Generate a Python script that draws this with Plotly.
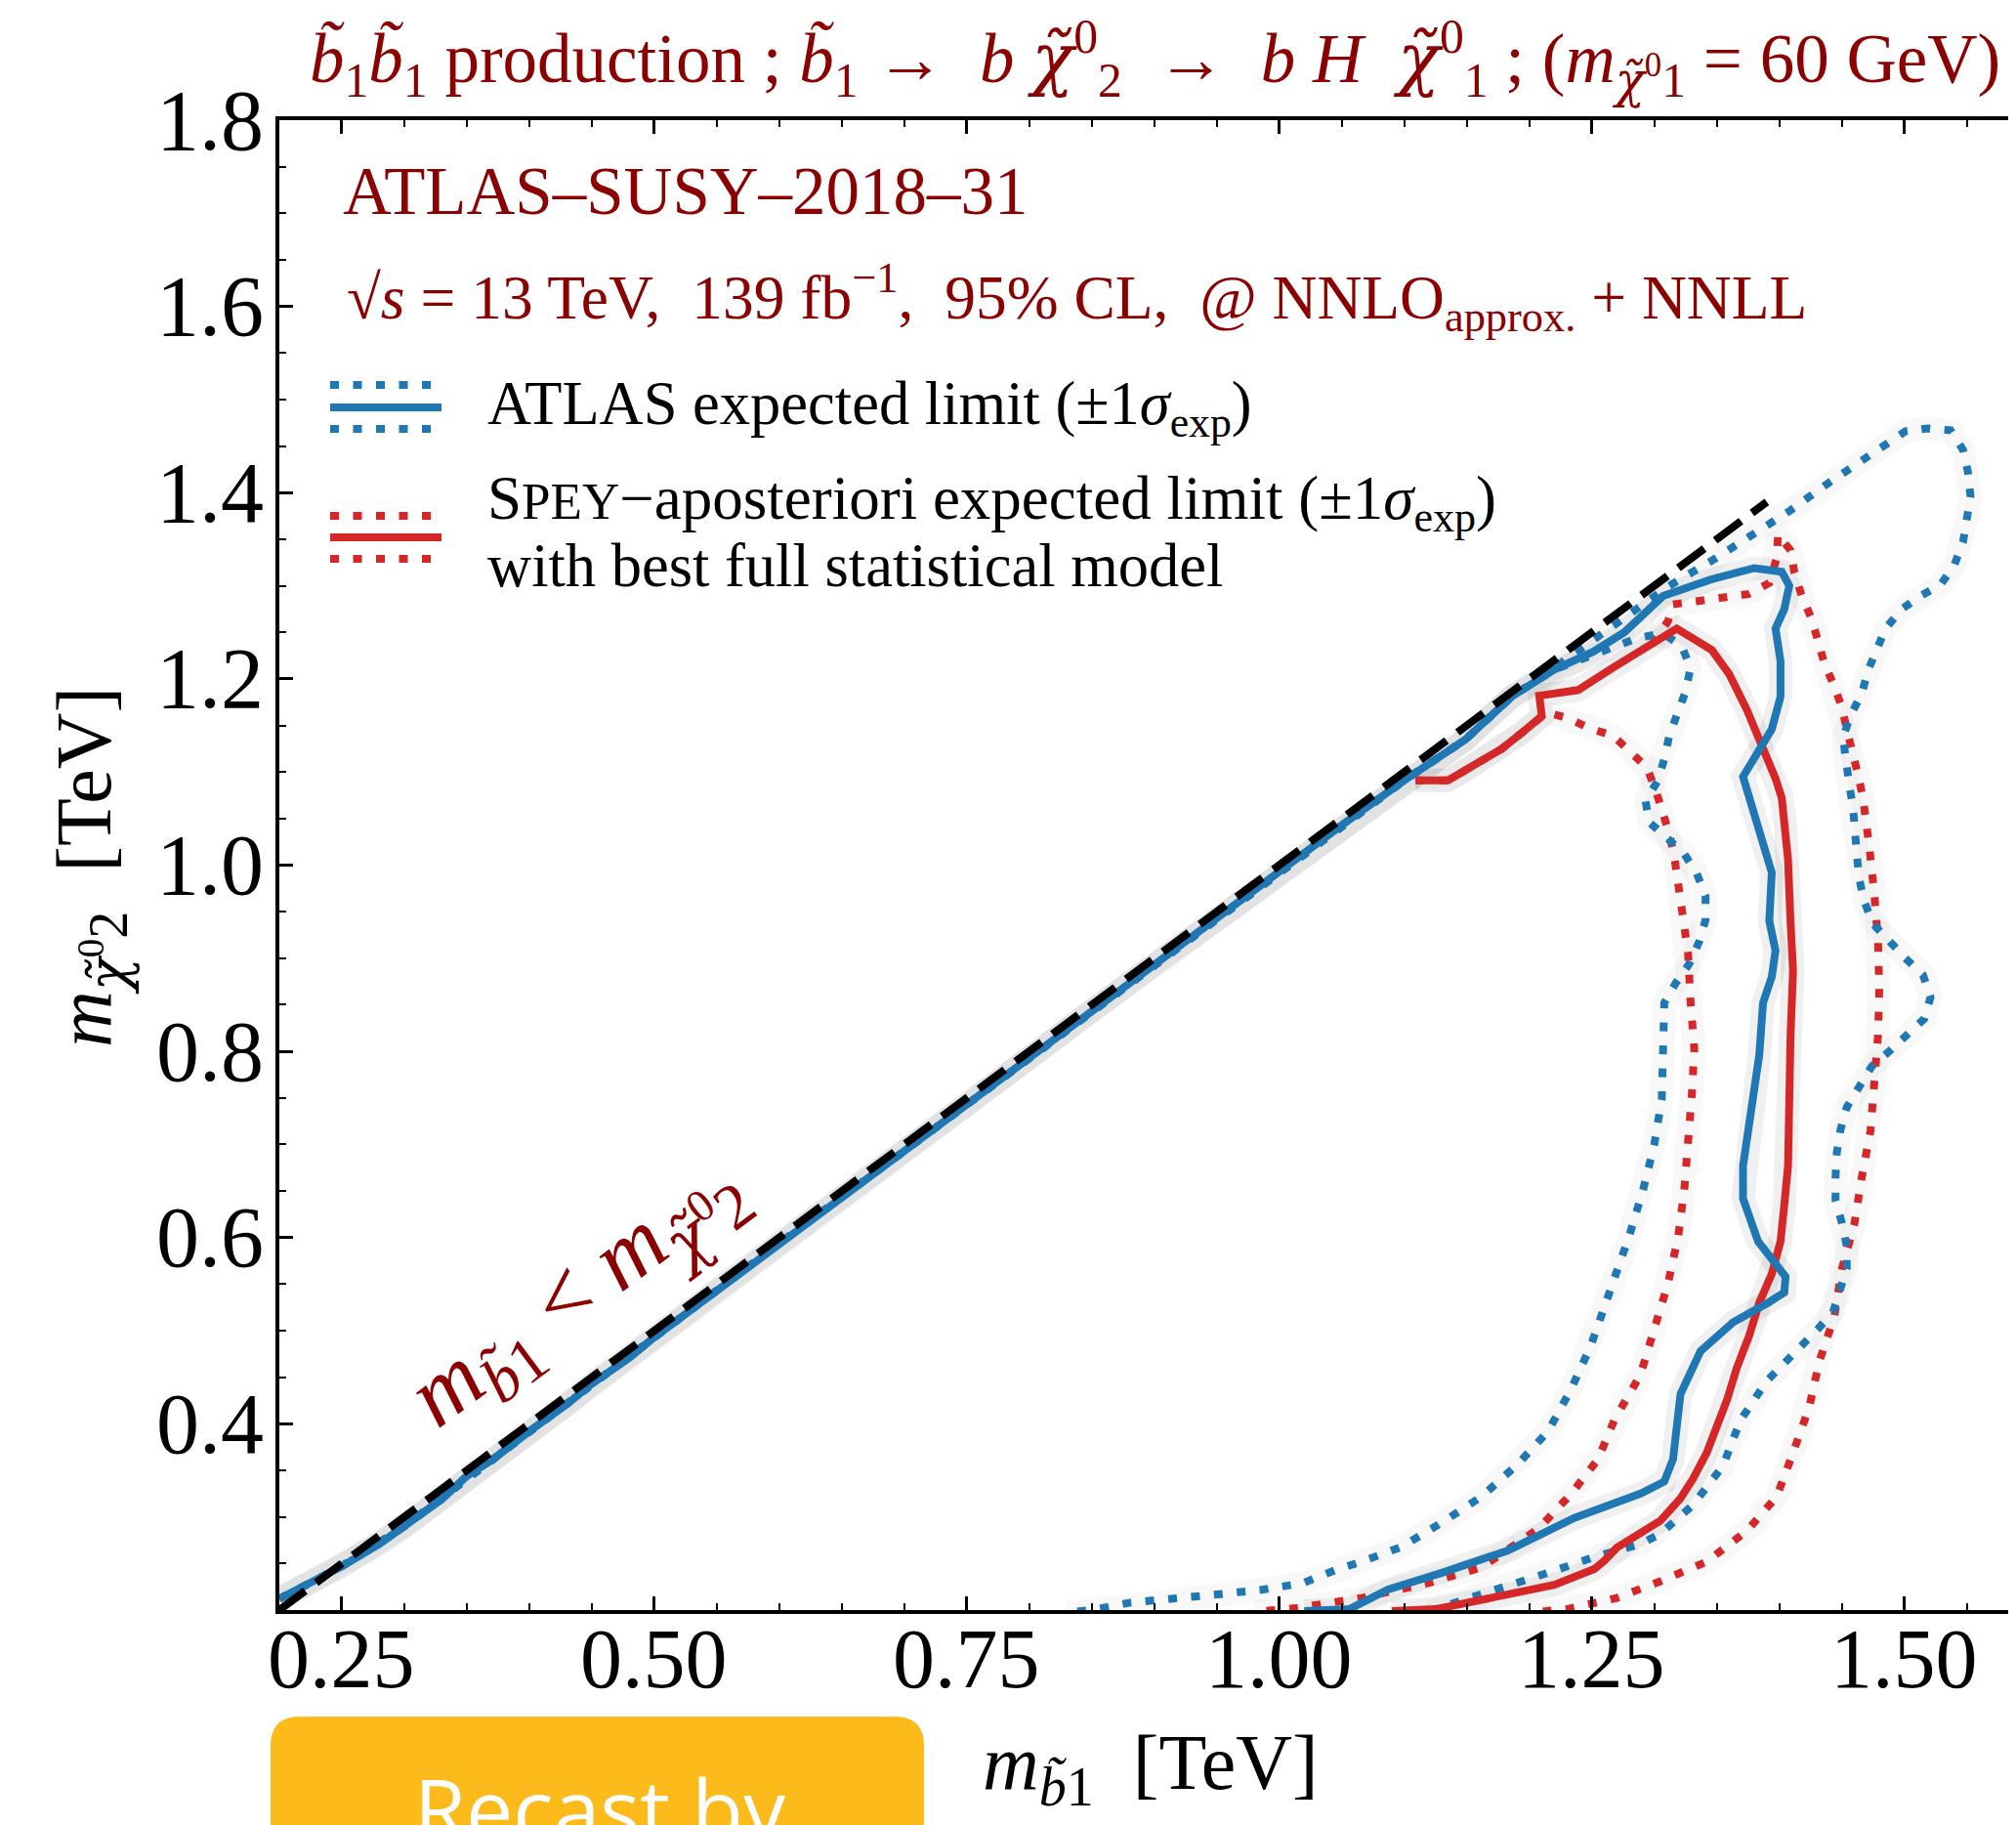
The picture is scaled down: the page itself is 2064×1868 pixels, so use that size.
import plotly.graph_objects as go

# ---------------- data (TeV) ----------------
diag_x = [0.20, 1.39]
diag_y = [0.20, 1.39]

atlas_exp_x = [0.200, 0.220, 0.250, 0.280, 0.300, 0.330, 0.350, 0.370, 0.400, 0.430, 0.450, 0.480,
               0.500, 0.530, 0.550, 0.580, 0.600, 0.650, 0.700, 0.750, 0.800, 0.850, 0.900, 0.950,
               1.000, 1.050, 1.100, 1.149, 1.186, 1.220, 1.251, 1.276, 1.307, 1.346, 1.380, 1.402,
               1.408, 1.404, 1.397, 1.401, 1.401, 1.394, 1.371, 1.383, 1.390, 1.394, 1.392, 1.397,
               1.394, 1.387, 1.384, 1.377, 1.371, 1.371, 1.383, 1.397, 1.405, 1.404, 1.391, 1.363,
               1.337, 1.321, 1.315, 1.308, 1.289, 1.236, 1.183, 1.130, 1.087, 1.056, 1.020]
atlas_exp_y = [0.212, 0.226, 0.247, 0.271, 0.290, 0.319, 0.344, 0.361, 0.392, 0.421, 0.443, 0.471,
               0.493, 0.523, 0.544, 0.573, 0.594, 0.644, 0.693, 0.744, 0.793, 0.844, 0.893, 0.943,
               0.993, 1.043, 1.091, 1.135, 1.181, 1.210, 1.229, 1.250, 1.289, 1.307, 1.319, 1.315,
               1.300, 1.275, 1.254, 1.219, 1.181, 1.146, 1.095, 1.041, 1.006, 0.992, 0.940, 0.908,
               0.880, 0.852, 0.796, 0.730, 0.677, 0.642, 0.596, 0.572, 0.558, 0.541, 0.530, 0.509,
               0.478, 0.432, 0.362, 0.338, 0.325, 0.299, 0.264, 0.240, 0.222, 0.201, 0.199]

atlas_outer_x = [0.200, 0.250, 0.300, 0.400, 0.500, 0.600, 0.700, 0.800, 0.900, 1.000, 1.100, 1.149,
                 1.186, 1.220, 1.260, 1.290, 1.312, 1.346, 1.377, 1.408, 1.439, 1.471, 1.501, 1.519,
                 1.537, 1.547, 1.551, 1.553, 1.550, 1.547, 1.540, 1.529, 1.513, 1.498, 1.485, 1.478,
                 1.471, 1.466, 1.457, 1.451, 1.453, 1.456, 1.459, 1.460, 1.462, 1.464, 1.468, 1.475,
                 1.488, 1.501, 1.515, 1.521, 1.516, 1.502, 1.488, 1.474, 1.464, 1.454, 1.449, 1.446,
                 1.445, 1.445, 1.450, 1.454, 1.454, 1.448, 1.443, 1.431, 1.416, 1.390, 1.369, 1.355,
                 1.331, 1.305, 1.289, 1.252, 1.215, 1.178, 1.120]
atlas_outer_y = [0.212, 0.247, 0.290, 0.392, 0.493, 0.594, 0.693, 0.793, 0.893, 0.993, 1.091, 1.135,
                 1.181, 1.212, 1.250, 1.281, 1.300, 1.327, 1.354, 1.380, 1.410, 1.438, 1.466, 1.469,
                 1.467, 1.446, 1.422, 1.396, 1.371, 1.347, 1.322, 1.301, 1.289, 1.275, 1.254, 1.233,
                 1.209, 1.184, 1.161, 1.137, 1.111, 1.086, 1.062, 1.037, 1.012, 0.985, 0.961, 0.937,
                 0.918, 0.900, 0.882, 0.858, 0.835, 0.817, 0.800, 0.784, 0.763, 0.740, 0.716, 0.691,
                 0.665, 0.640, 0.616, 0.591, 0.567, 0.541, 0.520, 0.502, 0.481, 0.446, 0.404, 0.355,
                 0.313, 0.282, 0.271, 0.257, 0.240, 0.224, 0.199]

atlas_inner_x = [0.200, 0.250, 0.300, 0.400, 0.500, 0.600, 0.700, 0.800, 0.900, 1.000, 1.100, 1.149,
                 1.186, 1.220, 1.253, 1.270, 1.287, 1.307, 1.322, 1.329, 1.325, 1.318, 1.312, 1.308,
                 1.303, 1.293, 1.296, 1.312, 1.324, 1.334, 1.341, 1.341, 1.336, 1.328, 1.317, 1.308,
                 1.307, 1.306, 1.300, 1.291, 1.280, 1.267, 1.255, 1.249, 1.233, 1.215, 1.191, 1.162,
                 1.130, 1.098, 1.066, 1.045, 1.019, 0.987, 0.952, 0.918, 0.881, 0.854, 0.830]
atlas_inner_y = [0.212, 0.247, 0.290, 0.392, 0.493, 0.594, 0.693, 0.793, 0.893, 0.993, 1.091, 1.135,
                 1.181, 1.210, 1.226, 1.235, 1.244, 1.249, 1.235, 1.212, 1.186, 1.161, 1.139, 1.114,
                 1.091, 1.069, 1.046, 1.027, 1.012, 0.991, 0.967, 0.941, 0.918, 0.894, 0.873, 0.852,
                 0.801, 0.749, 0.700, 0.651, 0.602, 0.554, 0.510, 0.483, 0.436, 0.392, 0.357, 0.322,
                 0.294, 0.268, 0.252, 0.243, 0.229, 0.222, 0.217, 0.213, 0.208, 0.201, 0.197]

spey_exp_x = [1.109, 1.135, 1.149, 1.160, 1.178, 1.194, 1.210, 1.208, 1.239, 1.267, 1.298, 1.318,
              1.346, 1.360, 1.374, 1.385, 1.397, 1.402, 1.405, 1.407, 1.409, 1.411, 1.409, 1.408,
              1.407, 1.404, 1.401, 1.394, 1.384, 1.376, 1.366, 1.358, 1.347, 1.342, 1.331, 1.321,
              1.305, 1.284, 1.270, 1.260, 1.252, 1.220, 1.188, 1.156, 1.125, 1.090]
spey_exp_y = [1.091, 1.091, 1.102, 1.111, 1.125, 1.142, 1.160, 1.182, 1.188, 1.212, 1.237, 1.254,
              1.231, 1.205, 1.167, 1.132, 1.093, 1.072, 1.041, 1.006, 0.939, 0.887, 0.817, 0.747,
              0.677, 0.635, 0.596, 0.561, 0.530, 0.495, 0.460, 0.425, 0.390, 0.369, 0.341, 0.320,
              0.296, 0.278, 0.267, 0.253, 0.244, 0.227, 0.218, 0.210, 0.201, 0.199]

spey_inner_x = [1.109, 1.135, 1.149, 1.160, 1.178, 1.194, 1.214, 1.231, 1.248, 1.267, 1.280, 1.294,
                1.301, 1.307, 1.312, 1.316, 1.321, 1.327, 1.329, 1.332, 1.330, 1.327, 1.324, 1.319,
                1.311, 1.300, 1.289, 1.268, 1.255, 1.233, 1.207, 1.162, 1.119, 1.066, 1.013, 0.980]
spey_inner_y = [1.091, 1.091, 1.102, 1.111, 1.125, 1.142, 1.164, 1.158, 1.147, 1.139, 1.123, 1.105,
                1.081, 1.056, 1.034, 1.009, 0.956, 0.906, 0.854, 0.803, 0.753, 0.701, 0.651, 0.600,
                0.551, 0.502, 0.453, 0.404, 0.362, 0.324, 0.287, 0.246, 0.229, 0.213, 0.202, 0.198]

spey_outer_x = [1.298, 1.311, 1.315, 1.337, 1.357, 1.375, 1.392, 1.398, 1.399, 1.409, 1.412, 1.418,
                1.426, 1.431, 1.436, 1.443, 1.450, 1.454, 1.459, 1.463, 1.467, 1.470, 1.472, 1.476,
                1.479, 1.480, 1.479, 1.476, 1.473, 1.466, 1.460, 1.450, 1.444, 1.432, 1.424, 1.411,
                1.398, 1.374, 1.342, 1.305, 1.270, 1.230, 1.200]
spey_outer_y = [1.237, 1.262, 1.280, 1.284, 1.287, 1.291, 1.303, 1.330, 1.355, 1.338, 1.315, 1.289,
                1.264, 1.242, 1.217, 1.195, 1.170, 1.146, 1.121, 1.097, 1.072, 1.046, 1.020, 0.970,
                0.918, 0.867, 0.817, 0.766, 0.715, 0.665, 0.614, 0.566, 0.515, 0.467, 0.418, 0.369,
                0.322, 0.285, 0.252, 0.231, 0.213, 0.201, 0.197]

x_major = [0.25, 0.50, 0.75, 1.00, 1.25, 1.50]
x_labels = ["0.25", "0.50", "0.75", "1.00", "1.25", "1.50"]
y_major = [0.4, 0.6, 0.8, 1.0, 1.2, 1.4, 1.6, 1.8]
y_labels = ["0.4", "0.6", "0.8", "1.0", "1.2", "1.4", "1.6", "1.8"]
x_minor = [round(0.20 + 0.05 * i, 2) for i in range(28)]
y_minor = [round(0.20 + 0.05 * i, 2) for i in range(33)]

# ---------------- style ----------------
BLUE = "#1f77b4"
RED = "#d62728"
DARKRED = "#8b0000"
SERIF = "Liberation Serif, DejaVu Serif, serif"
CHI = "<span style=\"font-family:'DejaVu Serif'\">χ̃</span>"
W, H = 2064, 1868
OFF = 8                      # page offset of the figure (body margin)
ML, MR, MT, MB = 278, 0, 115, 228
PW, PH = W - ML - MR, H - MT - MB
X0 = 0.20
X1 = X0 + PW / 1279.7
DOT = "9px,14.5px"
LW = 8


def px(page_x):
    return (page_x - OFF - ML) / PW


def py(page_y):
    return (H - MB - (page_y - OFF)) / PH


fig = go.Figure()


def add_line(x, y, color, dash, width=LW):
    fig.add_trace(go.Scatter(x=x, y=y, mode="lines", showlegend=False, hoverinfo="skip",
                             line=dict(color=color, width=width, dash=dash)))


# soft shadows under the curves
for xs, ys, a in [(spey_outer_x, spey_outer_y, 0.028), (spey_inner_x, spey_inner_y, 0.028),
                  (atlas_outer_x, atlas_outer_y, 0.028), (atlas_inner_x, atlas_inner_y, 0.028),
                  (spey_exp_x, spey_exp_y, 0.06), (atlas_exp_x, atlas_exp_y, 0.06)]:
    add_line(xs, ys, f"rgba(0,0,0,{a})", "solid", 24)

add_line(spey_outer_x, spey_outer_y, RED, DOT)
add_line(spey_inner_x, spey_inner_y, RED, DOT)
add_line(atlas_outer_x, atlas_outer_y, BLUE, DOT)
add_line(atlas_inner_x, atlas_inner_y, BLUE, DOT)
add_line(spey_exp_x, spey_exp_y, RED, "solid")
add_line(atlas_exp_x, atlas_exp_y, BLUE, "solid")
add_line(diag_x, diag_y, "black", "33px,14px")

axis_common = dict(showgrid=False, zeroline=False, showline=True, linecolor="black", linewidth=4,
                   ticks="inside", ticklen=14, tickwidth=3, tickcolor="black", automargin=False,
                   showticklabels=False)

fig.update_layout(
    width=W, height=H,
    margin=dict(l=ML, r=MR, t=MT, b=MB, pad=0, autoexpand=False),
    paper_bgcolor="white", plot_bgcolor="white",
    xaxis=dict(range=[X0, X1], tickvals=x_major, mirror="allticks",
               minor=dict(tickvals=x_minor, ticks="inside", ticklen=7, tickwidth=2, tickcolor="black"),
               **axis_common),
    yaxis=dict(range=[0.2, 1.8], tickvals=y_major, mirror=False,
               minor=dict(tickvals=y_minor, ticks="inside", ticklen=7, tickwidth=2, tickcolor="black"),
               **axis_common),
    yaxis2=dict(range=[0.2, 1.8], overlaying="y", side="right", showline=False, showgrid=False,
                zeroline=False, tickvals=y_major, ticks="inside", ticklen=11, tickwidth=3,
                tickcolor="black", showticklabels=False, automargin=False),
)

ann = []
# tick labels placed on the axis scales
for xv, lab in zip(x_major, x_labels):
    ann.append(dict(text=lab, x=xv, xref="x", y=py(1698), yref="paper", xanchor="center",
                    yanchor="middle", font=dict(family=SERIF, size=86, color="black")))
for yv, lab in zip(y_major, y_labels):
    ann.append(dict(text=lab, x=px(272), xref="paper", y=yv, yref="y", xanchor="right",
                    yanchor="middle", font=dict(family=SERIF, size=88, color="black")))
paper_ann = []
# title
paper_ann.append(dict(
    text=f"<i>b̃</i><sub>1</sub><i>b̃</i><sub>1</sub> production ; <i>b̃</i><sub>1</sub> →  <i>b</i> <i>{CHI}</i><sup>0</sup><sub>2</sub>  →  <i>b H</i>  <i>{CHI}</i><sup>0</sup><sub>1</sub> ; (<i>m</i><sub><i>{CHI}</i><sup>0</sup>1</sub> = 60 GeV)",
    x=px(1182), y=py(60), xanchor="center", yanchor="middle",
    font=dict(family=SERIF, size=71, color=DARKRED)))
paper_ann.append(dict(text="ATLAS–SUSY–2018–31", x=px(349), y=py(196), xanchor="left", yanchor="middle",
                      font=dict(family=SERIF, size=69, color=DARKRED)))
paper_ann.append(dict(text="√<i>s</i> = 13 TeV,  139 fb<sup>−1</sup>,  95% CL,  @ NNLO<sub>approx.</sub> + NNLL",
                      x=px(353), y=py(304), xanchor="left", yanchor="middle",
                      font=dict(family=SERIF, size=63.5, color=DARKRED)))
paper_ann.append(dict(text="ATLAS expected limit (±1<i>σ</i><sub>exp</sub>)", x=px(497), y=py(417),
                      xanchor="left", yanchor="middle", font=dict(family=SERIF, size=62.5, color="black")))
paper_ann.append(dict(text="S<span style='font-size:53px'>PEY</span>−aposteriori expected limit (±1<i>σ</i><sub>exp</sub>)",
                      x=px(497), y=py(515), xanchor="left", yanchor="middle",
                      font=dict(family=SERIF, size=63, color="black")))
paper_ann.append(dict(text="with best full statistical model", x=px(497), y=py(579),
                      xanchor="left", yanchor="middle", font=dict(family=SERIF, size=62.5, color="black")))
# diagonal label
paper_ann.append(dict(text=f"<i>m</i><sub><i>b̃</i>1</sub> &lt; <i>m</i><sub><i>{CHI}</i><sup>0</sup>2</sub>",
                      x=px(592), y=py(1326), xanchor="center", yanchor="middle", textangle=-36.7,
                      font=dict(family=SERIF, size=94, color=DARKRED)))
# axis titles
paper_ann.append(dict(text="<i>m</i><sub><i>b̃</i>1</sub>  [TeV]", x=px(1178), y=py(1810),
                      xanchor="center", yanchor="middle", font=dict(family=SERIF, size=80, color="black")))
paper_ann.append(dict(text=f"<i>m</i><sub><i>{CHI}</i><sup>0</sup>2</sub>  [TeV]", x=px(92), y=py(888),
                      xanchor="center", yanchor="middle", textangle=-90,
                      font=dict(family=SERIF, size=80, color="black")))
# badge text
paper_ann.append(dict(text="Recast by", x=px(614), y=py(1790), xanchor="center", yanchor="top",
                      font=dict(family="Open Sans, Noto Sans, sans-serif", size=86, color="white")))
for a in paper_ann:
    a.update(xref="paper", yref="paper")
ann += paper_ann
for a in ann:
    a.update(showarrow=False)
fig.update_layout(annotations=ann)

shapes = []
# legend samples
for yy, col, dash in [(394, BLUE, DOT), (417, BLUE, "solid"), (439, BLUE, DOT),
                      (528, RED, DOT), (550, RED, "solid"), (572, RED, DOT)]:
    shapes.append(dict(type="line", xref="paper", yref="paper", x0=px(338), x1=px(452),
                       y0=py(yy), y1=py(yy), line=dict(color=col, width=LW, dash=dash)))
# badge
bx0, bx1, by0, by1, r = px(277), px(946), py(1757), py(2100), 30
rx, ry = r / PW, r / PH
path = (f"M {bx0},{by1} L {bx0},{by0 - ry} Q {bx0},{by0} {bx0 + rx},{by0} "
        f"L {bx1 - rx},{by0} Q {bx1},{by0} {bx1},{by0 - ry} L {bx1},{by1} Z")
shapes.append(dict(type="path", xref="paper", yref="paper", path=path,
                   fillcolor="#fdbb1b", line=dict(width=0), layer="below"))
fig.update_layout(shapes=shapes)

fig.write_html("out.html")
